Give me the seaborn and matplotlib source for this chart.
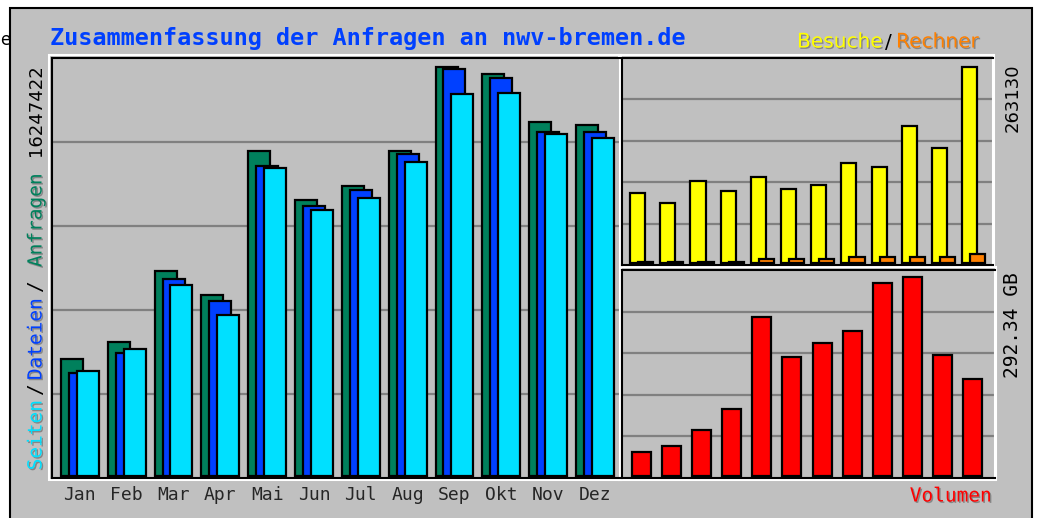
import numpy as np
import pandas as pd
import seaborn as sns
import matplotlib.pyplot as plt
import matplotlib.patheffects as pe
from matplotlib.patches import Rectangle

months = ['Jan', 'Feb', 'Mar', 'Apr', 'Mai', 'Jun', 'Jul', 'Aug', 'Sep', 'Okt', 'Nov', 'Dez']
anfragen = [4636000, 5310000, 8124000, 7173000, 12919000, 10977000,
            11532000, 12919000, 16247422, 15970000, 14068000, 13949000]
dateien = [4082000, 4874000, 7807000, 6935000, 12324000, 10739000,
           11373000, 12800000, 16168000, 15812000, 13672000, 13672000]
seiten = [4161000, 5033000, 7569000, 6380000, 12245000, 10581000,
          11056000, 12483000, 15178000, 15217000, 13592000, 13434000]
besuche = [93500, 80100, 109500, 96200, 114900, 98800,
           104200, 133600, 128200, 184300, 154900, 263130]
rechner = [1200, 1300, 1500, 1600, 5300, 5300, 5300, 8000, 8000, 8000, 8000, 12000]
volumen_gb = [35.3, 44.1, 67.6, 98.4, 233.6, 174.8, 195.4, 213.0, 283.5, 292.34, 177.8, 142.5]

GREY = '#c0c0c0'
W, H = 1037, 518

sns.set_style('white')
plt.rcParams['font.family'] = ['DejaVu Sans Mono', 'DejaVu Sans']

fig = plt.figure(figsize=(W / 100, H / 100), dpi=100, facecolor='white')


def box(x0, y0, x1, y1):
    return [x0 / W, 1 - y1 / H, (x1 - x0) / W, (y1 - y0) / H]


def px(x, y):
    return x / W, 1 - y / H


# outer frame
fig.add_artist(Rectangle(px(10, 520), 1022 / W, 512 / H, transform=fig.transFigure,
                         facecolor=GREY, edgecolor='black', linewidth=1.5, zorder=-5))

panels = {'main': (52, 58, 620, 478), 'vis': (622, 58, 993, 265), 'vol': (622, 270, 995, 478)}
axes = {}
for name, (x0, y0, x1, y1) in panels.items():
    fig.add_artist(Rectangle(px(x0 - 3, y1 + 2), (x1 - x0 + 4) / W, (y1 - y0 + 5) / H,
                             transform=fig.transFigure, fill=False,
                             edgecolor='white', linewidth=1.5, zorder=-1))
    ax = fig.add_axes(box(x0, y0, x1, y1))
    ax.set_facecolor(GREY)
    for side in ['top', 'left', 'bottom']:
        ax.spines[side].set_color('black')
        ax.spines[side].set_linewidth(1.5)
    ax.spines['right'].set_color('white')
    ax.spines['right'].set_linewidth(1.5)
    axes[name] = ax

x = np.arange(12)


def bars(ax, xpos, vals, color, width):
    sns.barplot(x=xpos, y=vals, native_scale=True, orient='x', width=width,
                color=color, saturation=1, edgecolor='black', linewidth=1.6,
                errorbar=None, ax=ax)


def frame(ax, lo, hi, xlim):
    ax.set_ylim(lo, hi)
    ax.set_xlim(*xlim)
    ax.set_yticks([lo + f * (hi - lo) for f in (0.2, 0.4, 0.6, 0.8)])
    ax.yaxis.grid(True, color='#808080', linewidth=1.6)
    ax.set_axisbelow(True)
    ax.tick_params(axis='y', length=0, labelleft=False)
    ax.set_xlabel('')
    ax.set_ylabel('')


# main panel: Anfragen / Dateien / Seiten
ax = axes['main']
bars(ax, x + 0.235, anfragen, '#00805c', 0.47)
bars(ax, x + 0.405, dateien, '#0040ff', 0.47)
bars(ax, x + 0.575, seiten, '#00e0ff', 0.47)
frame(ax, -79000, 16604000, (-0.19, 11.94))
ax.set_xticks(x + 0.405, months)
ax.tick_params(axis='x', length=0, pad=6, labelsize=13)

# Besuche / Rechner
ax = axes['vis']
bars(ax, x + 0.25, besuche, '#ffff00', 0.5)
bars(ax, x + 0.515, rechner, '#ff8000', 0.5)
frame(ax, -2700, 275150, (-0.265, 12.02))
ax.set_xticks([])

# Volumen
ax = axes['vol']
bars(ax, x + 0.315, volumen_gb, '#ff0000', 0.63)
frame(ax, -2.9, 302.6, (-0.332, 12.06))
ax.set_xticks([])

shadow = [pe.withSimplePatchShadow(offset=(1, -1), shadow_rgbFace='#606060', alpha=0.6)]

fig.text(*px(50, 38), 'Zusammenfassung der Anfragen an nwv-bremen.de', color='#0040ff',
         fontsize=16.9, fontweight='bold', ha='left', va='center')

# left legend (rotated)
for yc, txt, col in [(435, 'Seiten', '#00e0ff'), (389, '/', 'black'),
                     (339, 'Dateien', '#0040ff'), (286, '/', 'black'),
                     (220, 'Anfragen', '#00805c')]:
    fig.text(*px(36, yc), txt, color=col, fontsize=14, rotation=90,
             ha='center', va='center', path_effects=shadow if col != 'black' else None)
fig.text(*px(36, 110), '16247422', color='black', fontsize=13, rotation=90,
         ha='center', va='center', family='DejaVu Sans')

# right labels
fig.text(*px(1013, 98), '263130', color='black', fontsize=13, rotation=90,
         ha='center', va='center', family='DejaVu Sans')
fig.text(*px(1013, 325), '292.34 GB', color='black', fontsize=14, rotation=90,
         ha='center', va='center')
fig.text(*px(992, 496), 'Volumen', color='#ff0000', fontsize=14,
         ha='right', va='center', path_effects=shadow)

fig.text(*px(797, 42), 'Besuche', color='#ffff00', fontsize=14.5, ha='left', va='center',
         family='DejaVu Sans', path_effects=shadow)
fig.text(*px(885, 42), '/', color='black', fontsize=14.5, ha='left', va='center',
         family='DejaVu Sans')
fig.text(*px(896, 42), 'Rechner', color='#ff8000', fontsize=14.5, ha='left', va='center',
         family='DejaVu Sans', path_effects=shadow)

fig.text(*px(0, 40), 'e', color='black', fontsize=12, ha='left', va='center',
         family='DejaVu Sans')

fig.savefig('out.png', dpi=100, facecolor=fig.get_facecolor())
